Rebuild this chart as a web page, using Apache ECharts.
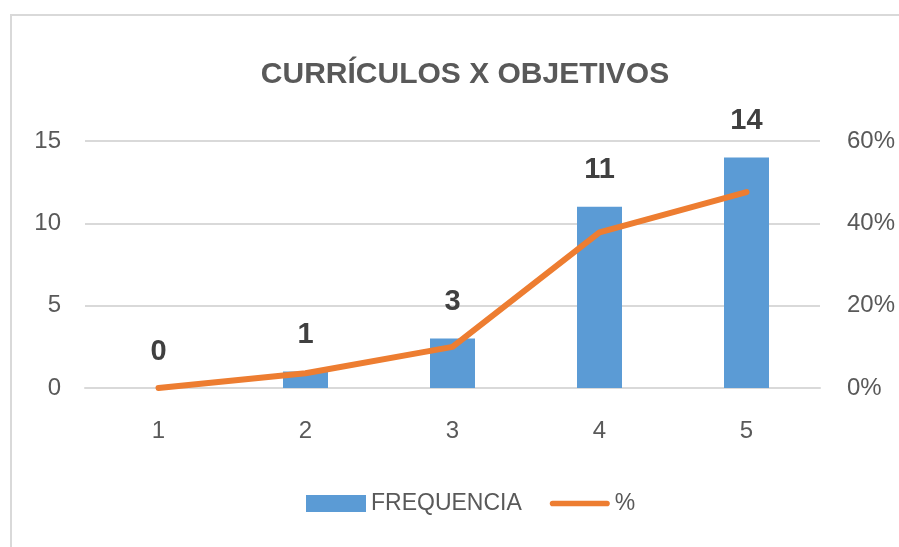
<!DOCTYPE html>
<html>
<head>
<meta charset="utf-8">
<script src="https://cdn.jsdelivr.net/npm/echarts@6/dist/echarts.min.js"></script>
<style>
  html, body { margin: 0; padding: 0; background: #fff; }
  #chart { width: 899px; height: 547px; }
</style>
</head>
<body>
<div id="chart"></div>
<script>
const categories = ['1', '2', '3', '4', '5']
const frequencia = [0, 1, 3, 11, 14]
const percent = [0, 3.6, 10, 37.8, 47.6]

const font = '"Liberation Sans", sans-serif'
const gray = '#595959'

const chart = echarts.init(document.getElementById('chart'))
chart.setOption({
  textStyle: { fontFamily: font },
  graphic: [
    {
      type: 'rect',
      shape: { x: 11, y: 15, width: 1000, height: 1000 },
      style: { fill: 'none', stroke: '#d9d9d9', lineWidth: 2 },
      silent: true
    }
  ],
  title: {
    text: 'CURRÍCULOS X OBJETIVOS',
    left: 460,
    textAlign: 'center',
    top: 55,
    textStyle: { fontFamily: font, fontSize: 30, fontWeight: 'bold', color: gray }
  },
  legend: {
    bottom: 27,
    left: 301,
    itemGap: 28,
    textStyle: { fontFamily: font, fontSize: 23, color: gray },
    data: [
      { name: 'FREQUENCIA', icon: 'rect', itemStyle: { color: '#5b9bd5' } },
      {
        name: '%',
        icon: 'path://M3,0 L61,0 A3,3 0 0 1 61,6 L3,6 A3,3 0 0 1 3,0 Z',
        itemStyle: { color: '#ed7d31' }
      }
    ],
    itemWidth: 60,
    itemHeight: 17
  },
  grid: { left: 85, right: 79, top: 141, bottom: 159 },
  xAxis: {
    type: 'category',
    data: categories,
    axisTick: { show: false },
    axisLine: { lineStyle: { color: '#d9d9d9', width: 2 } },
    axisLabel: { color: gray, fontSize: 24, margin: 31, fontFamily: font }
  },
  yAxis: [
    {
      type: 'value',
      min: 0,
      max: 15,
      interval: 5,
      axisLabel: { color: gray, fontSize: 24, margin: 24, fontFamily: font },
      splitLine: { lineStyle: { color: '#d9d9d9', width: 2 } }
    },
    {
      type: 'value',
      min: 0,
      max: 60,
      interval: 20,
      position: 'right',
      axisLabel: { color: gray, fontSize: 24, margin: 27, formatter: '{value}%', fontFamily: font },
      splitLine: { show: false }
    }
  ],
  series: [
    {
      name: 'FREQUENCIA',
      type: 'bar',
      data: frequencia,
      barWidth: 45,
      itemStyle: { color: '#5b9bd5' },
      label: {
        show: true,
        position: 'top',
        distance: 22,
        fontSize: 29,
        fontWeight: 'bold',
        color: '#404040',
        fontFamily: font
      }
    },
    {
      name: '%',
      type: 'line',
      yAxisIndex: 1,
      data: percent,
      symbol: 'none',
      lineStyle: { color: '#ed7d31', width: 6, cap: 'round' },
      itemStyle: { color: '#ed7d31' }
    }
  ]
})
</script>
</body>
</html>
